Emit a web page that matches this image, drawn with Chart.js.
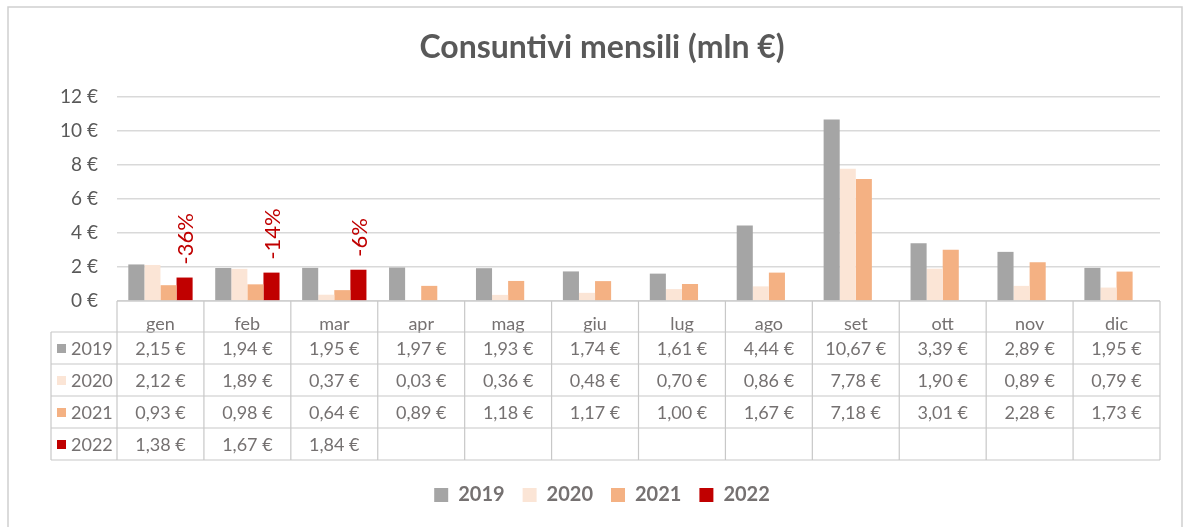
<!DOCTYPE html>
<html>
<head>
<meta charset="utf-8">
<script src="https://cdn.jsdelivr.net/npm/chart.js@4.4.1/dist/chart.umd.min.js"></script>
<style>
  html, body { margin: 0; padding: 0; background: #fff; }
  canvas { display: block; }
</style>
</head>
<body>
<canvas id="chart" width="1184" height="527"></canvas>
<script>
// data
const months = ['gen', 'feb', 'mar', 'apr', 'mag', 'giu', 'lug', 'ago', 'set', 'ott', 'nov', 'dic'];
const years = ['2019', '2020', '2021', '2022'];
const v2019 = [2.15, 1.94, 1.95, 1.97, 1.93, 1.74, 1.61, 4.44, 10.67, 3.39, 2.89, 1.95];
const v2020 = [2.12, 1.89, 0.37, 0.03, 0.36, 0.48, 0.70, 0.86, 7.78, 1.90, 0.89, 0.79];
const v2021 = [0.93, 0.98, 0.64, 0.89, 1.18, 1.17, 1.00, 1.67, 7.18, 3.01, 2.28, 1.73];
const v2022 = [1.38, 1.67, 1.84, null, null, null, null, null, null, null, null, null];
const pctLabels = ['-36%', '-14%', '-6%'];
const yTicks = [0, 2, 4, 6, 8, 10, 12];

const colors = ['#a5a5a5', '#fbe5d6', '#f4b183', '#c00000'];
const textGray = '#757171';
const lineGray = '#c8c8c8';

Chart.defaults.font.family = 'Lato, "Open Sans", sans-serif';

function euro(v) {
    return v.toFixed(2).replace('.', ',') + ' €';
}

// frame around the whole chart
const framePlugin = {
    id: 'frame',
    beforeDraw(chart) {
        const ctx = chart.ctx;
        ctx.save();
        ctx.strokeStyle = '#d0d0d0';
        ctx.lineWidth = 1.5;
        ctx.beginPath();
        ctx.moveTo(8, 530);
        ctx.lineTo(8, 7);
        ctx.lineTo(1182, 7);
        ctx.lineTo(1182, 530);
        ctx.stroke();
        ctx.restore();
    }
};

// data table under the plot, lined up on the x scale
const tablePlugin = {
    id: 'dataTable',
    afterDraw(chart) {
        const ctx = chart.ctx;
        const x = chart.scales.x;
        const area = chart.chartArea;
        const top = area.bottom;
        const headH = 31, rowH = 32;
        const keyLeft = 51;
        const bottom = top + headH + rowH * years.length;

        const edges = [area.left];
        for (let i = 1; i < months.length; i++) {
            edges.push((x.getPixelForValue(i - 1) + x.getPixelForValue(i)) / 2);
        }
        edges.push(area.right);

        ctx.save();
        ctx.strokeStyle = lineGray;
        ctx.lineWidth = 1.2;
        ctx.beginPath();
        ctx.moveTo(area.left, top);
        ctx.lineTo(area.right, top);
        for (let r = 0; r <= years.length; r++) {
            const y = top + headH + rowH * r;
            ctx.moveTo(keyLeft, y);
            ctx.lineTo(area.right, y);
        }
        edges.forEach(function(ex) {
            ctx.moveTo(ex, top);
            ctx.lineTo(ex, bottom);
        });
        ctx.moveTo(keyLeft, top + headH);
        ctx.lineTo(keyLeft, bottom);
        ctx.stroke();

        ctx.font = '18px Lato, "Open Sans", sans-serif';
        ctx.fillStyle = textGray;
        ctx.textBaseline = 'middle';
        chart.data.datasets.forEach(function(ds, r) {
            const cy = top + headH + rowH * r + rowH / 2;
            ctx.fillStyle = ds.backgroundColor;
            ctx.fillRect(57, cy - 4, 9, 9);
            ctx.fillStyle = textGray;
            ctx.textAlign = 'left';
            ctx.fillText(ds.label, 71, cy + 1);
            ctx.textAlign = 'center';
            ds.data.forEach(function(v, i) {
                if (v === null) return;
                ctx.fillText(euro(v), x.getPixelForValue(i), cy + 1);
            });
        });
        ctx.restore();
    }
};

// vertical % labels above the 2022 bars
const pctPlugin = {
    id: 'pctLabels',
    afterDatasetsDraw(chart) {
        const ctx = chart.ctx;
        const meta = chart.getDatasetMeta(3);
        ctx.save();
        ctx.font = '22px Lato, "Open Sans", sans-serif';
        ctx.fillStyle = '#c00000';
        ctx.textAlign = 'left';
        ctx.textBaseline = 'middle';
        pctLabels.forEach(function(t, i) {
            const bar = meta.data[i];
            ctx.save();
            ctx.translate(bar.x + 1, bar.y - 13);
            ctx.rotate(-Math.PI / 2);
            ctx.fillText(t, 0, 0);
            ctx.restore();
        });
        ctx.restore();
    }
};

new Chart(document.getElementById('chart'), {
    type: 'bar',
    data: {
        labels: months,
        datasets: [
            { label: years[0], data: v2019, backgroundColor: colors[0] },
            { label: years[1], data: v2020, backgroundColor: colors[1] },
            { label: years[2], data: v2021, backgroundColor: colors[2] },
            { label: years[3], data: v2022, backgroundColor: colors[3] }
        ]
    },
    options: {
        responsive: false,
        animation: false,
        devicePixelRatio: 1,
        datasets: {
            bar: { categoryPercentage: 0.74, barPercentage: 1.0 }
        },
        layout: { padding: { left: 44, right: 24, top: 0, bottom: 12 } },
        plugins: {
            title: {
                display: true,
                text: 'Consuntivi mensili (mln €)',
                color: '#595959',
                font: { size: 32, weight: 'bold' },
                padding: { top: 28, bottom: 30.6 }
            },
            legend: {
                position: 'bottom',
                labels: {
                    color: textGray,
                    font: { size: 20, weight: 'bold' },
                    boxWidth: 14,
                    boxHeight: 14,
                    padding: 18
                }
            },
            tooltip: { enabled: false }
        },
        scales: {
            x: {
                grid: { display: false },
                border: { display: false },
                ticks: {
                    color: textGray,
                    font: { size: 18 },
                    padding: 4,
                    maxRotation: 0
                },
                afterFit(scale) { scale.height = 166; }
            },
            y: {
                min: 0,
                max: 12,
                afterBuildTicks(scale) {
                    scale.ticks = yTicks.map(function(v) { return { value: v }; });
                },
                grid: { color: '#d9d9d9', lineWidth: 1.5, drawTicks: false },
                border: { display: false },
                ticks: {
                    color: '#595959',
                    font: { size: 19 },
                    padding: 19,
                    callback: function(v) { return v + ' €'; }
                },
                afterFit(scale) { scale.width = 73; }
            }
        }
    },
    plugins: [framePlugin, tablePlugin, pctPlugin]
});
</script>
</body>
</html>
